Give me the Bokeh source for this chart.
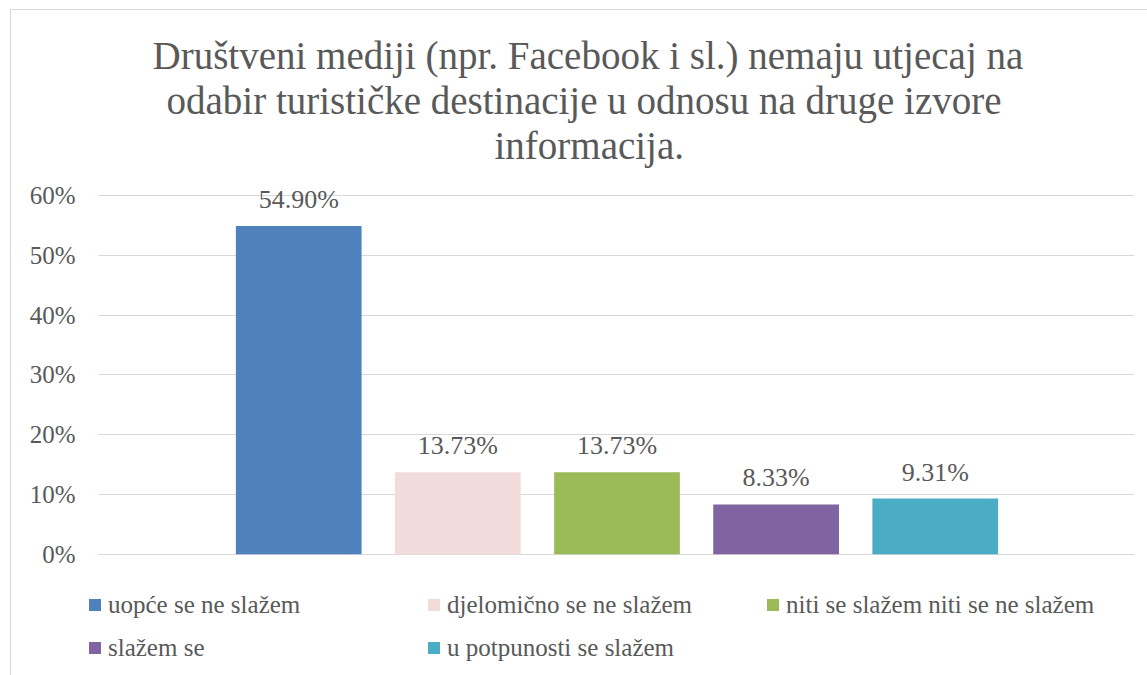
from bokeh.plotting import figure
from bokeh.models import (ColumnDataSource, Legend, LegendItem, Title, BoxAnnotation,
                          Range1d, FixedTicker, NumeralTickFormatter)
from bokeh.core.properties import value
from bokeh.embed import file_html
from bokeh.resources import INLINE

categories = ["uopće se ne slažem", "djelomično se ne slažem",
              "niti se slažem niti se ne slažem", "slažem se", "u potpunosti se slažem"]
values = [0.5490, 0.1373, 0.1373, 0.0833, 0.0931]
labels = ["54.90%", "13.73%", "13.73%", "8.33%", "9.31%"]
colors = ["#4F81BD", "#F2DCDB", "#9BBB59", "#8064A2", "#4BACC6"]
y_ticks = [0, 0.1, 0.2, 0.3, 0.4, 0.5, 0.6]
title_lines = ["Društveni mediji (npr. Facebook i sl.) nemaju utjecaj na",
               "odabir turističke destinacije u odnosu na druge izvore",
               "informacija."]

FONT = "Liberation Serif"
TXT = "#595959"

pos = list(range(len(categories)))
src = ColumnDataSource(dict(x=pos, cat=categories, val=values, lab=labels, col=colors))

p = figure(width=1137, height=666, output_backend="svg", toolbar_location=None,
           x_range=Range1d(-1.321, len(categories) - 1 + 1.252),
           y_range=Range1d(-0.1927, 0.6486),
           min_border_left=77, min_border_right=14, min_border_bottom=7, min_border_top=156)
p.title = None
p.styles = {"margin-left": "10px", "margin-top": "9px",
            "border-left": "1px solid #D9D9D9", "border-top": "1px solid #D9D9D9"}

# titles stacked from the plot upwards
title_offsets = [64, 78, 406]
for i in reversed(range(len(title_lines))):
    p.add_layout(Title(text=title_lines[i], align="left", offset=title_offsets[i],
                       text_font=FONT, text_font_size="39px", text_color=TXT,
                       text_font_style="normal", standoff=0), "above")

r = p.vbar(x="x", top="val", width=0.79, fill_color="col", line_color=None, source=src)
p.text(x="x", y="val", text="lab", source=src, text_align="center",
       text_baseline="bottom", y_offset=-12, text_font=value(FONT),
       text_font_size="26px", text_color=TXT)

p.xaxis.visible = False
p.xgrid.grid_line_color = None
p.ygrid.grid_line_color = "#D9D9D9"
p.ygrid.grid_line_width = 1
p.yaxis.ticker = FixedTicker(ticks=y_ticks)
p.yaxis.formatter = NumeralTickFormatter(format="0%")
p.yaxis.axis_line_color = None
p.yaxis.major_tick_line_color = None
p.yaxis.minor_tick_line_color = None
p.yaxis.major_tick_in = 0
p.yaxis.major_tick_out = 0
p.yaxis.minor_tick_in = 0
p.yaxis.minor_tick_out = 0
p.yaxis.major_label_standoff = 13
p.yaxis.major_label_text_font = FONT
p.yaxis.major_label_text_font_size = "25px"
p.yaxis.major_label_text_color = TXT
p.outline_line_color = None

# gridlines start a little to the right of the legend's left edge
p.add_layout(BoxAnnotation(left=0, right=10, left_units="screen", right_units="screen",
                           bottom=-0.01, top=0.61, fill_color="white", fill_alpha=1,
                           line_color=None, level="underlay"))

items = [LegendItem(label=c, renderers=[r], index=i) for i, c in enumerate(categories)]
leg = Legend(items=items, orientation="horizontal", ncols=3, location=(-1, 7),
             glyph_width=15, glyph_height=15, label_standoff=6, label_width=304,
             label_height=29, spacing=14, padding=0, margin=0, border_line_color=None,
             background_fill_alpha=0, label_text_font=FONT, label_text_font_size="25px",
             label_text_color=TXT)
p.add_layout(leg, "center")

open("out.html", "w").write(file_html(p, INLINE))
